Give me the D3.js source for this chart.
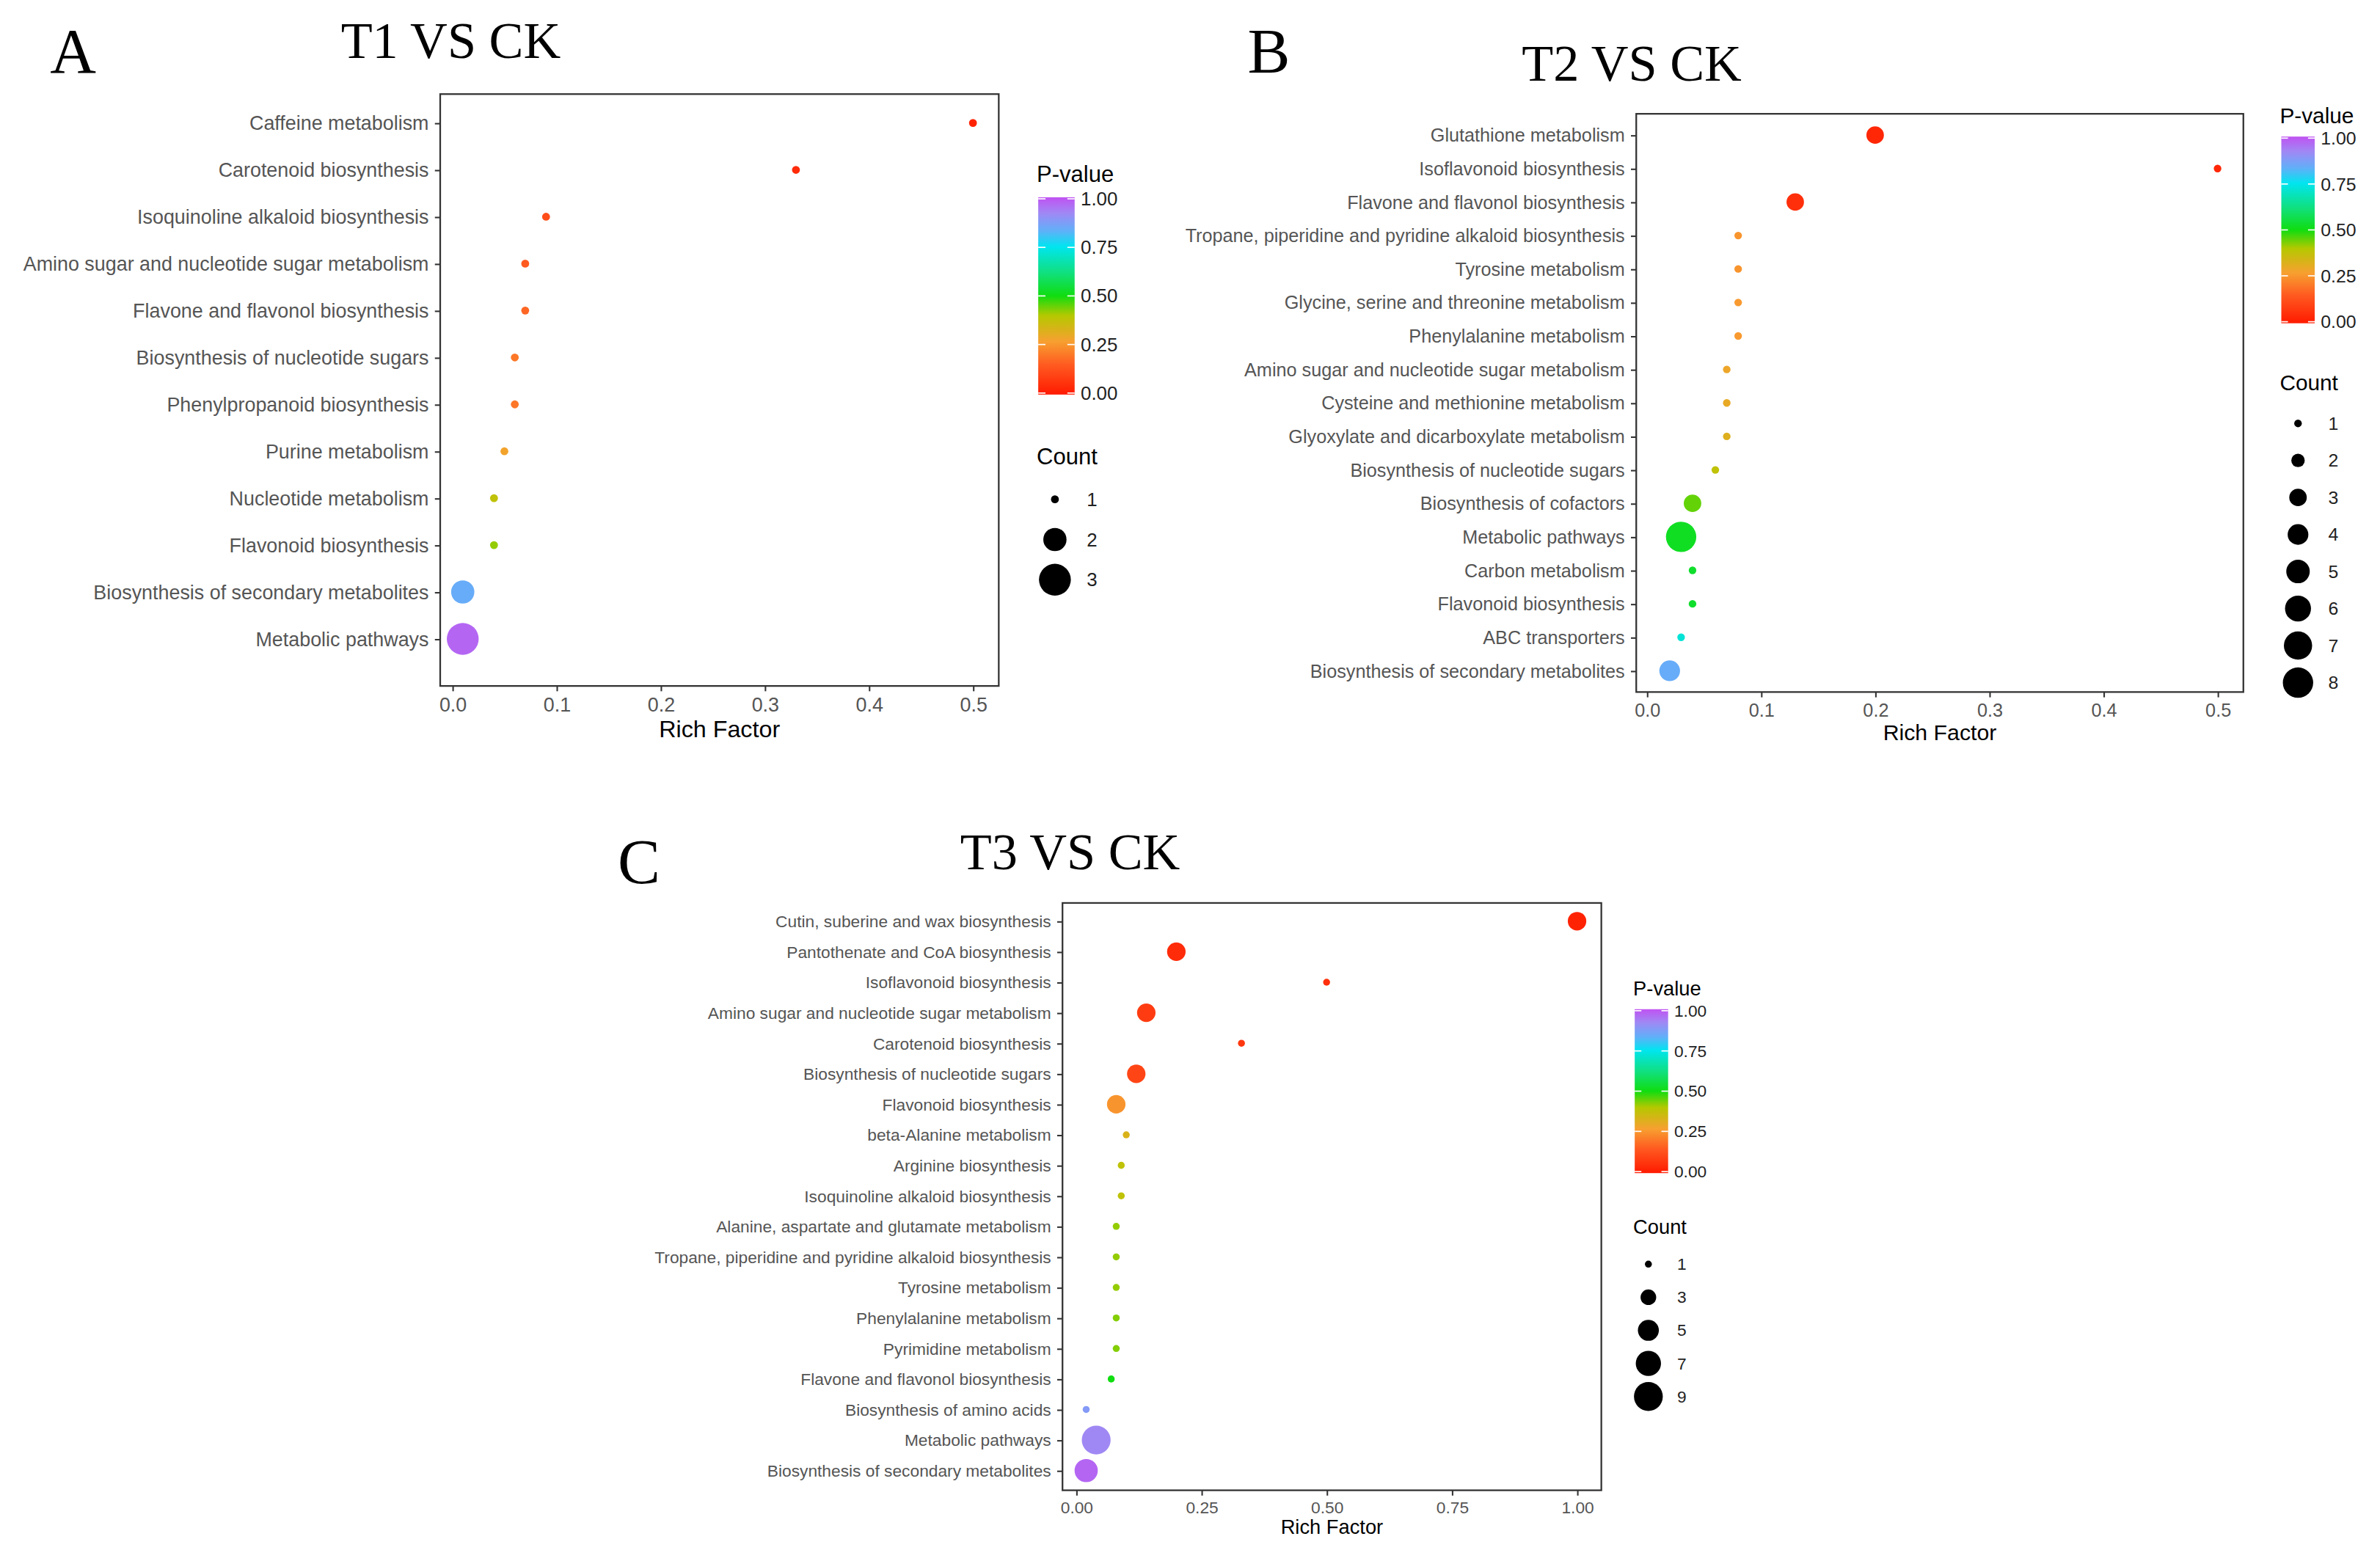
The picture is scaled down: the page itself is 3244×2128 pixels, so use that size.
<!DOCTYPE html>
<html><head><meta charset="utf-8">
<script src="https://cdn.jsdelivr.net/npm/d3@7"></script>
<style>body{margin:0;background:#fff}text{font-family:"Liberation Sans",Arial,sans-serif}</style>
</head><body>
<svg id="c" width="3244" height="2128" viewBox="0 0 1568 1028.6"></svg>
<script>
// Panel A: T1 VS CK
const catsA = ["Caffeine metabolism","Carotenoid biosynthesis","Isoquinoline alkaloid biosynthesis","Amino sugar and nucleotide sugar metabolism","Flavone and flavonol biosynthesis","Biosynthesis of nucleotide sugars","Phenylpropanoid biosynthesis","Purine metabolism","Nucleotide metabolism","Flavonoid biosynthesis","Biosynthesis of secondary metabolites","Metabolic pathways"];
const richA = [0.5,0.33,0.09,0.07,0.07,0.06,0.06,0.05,0.04,0.04,0.01,0.01];
const pA = [0.02,0.04,0.12,0.15,0.17,0.2,0.2,0.28,0.38,0.42,0.84,0.97];
const countA = [1,1,1,1,1,1,1,1,1,1,2,3];
const ticksA = [0,0.1,0.2,0.3,0.4,0.5];
const countTicksA = [1,2,3];
// Panel B: T2 VS CK
const catsB = ["Glutathione metabolism","Isoflavonoid biosynthesis","Flavone and flavonol biosynthesis","Tropane, piperidine and pyridine alkaloid biosynthesis","Tyrosine metabolism","Glycine, serine and threonine metabolism","Phenylalanine metabolism","Amino sugar and nucleotide sugar metabolism","Cysteine and methionine metabolism","Glyoxylate and dicarboxylate metabolism","Biosynthesis of nucleotide sugars","Biosynthesis of cofactors","Metabolic pathways","Carbon metabolism","Flavonoid biosynthesis","ABC transporters","Biosynthesis of secondary metabolites"];
const richB = [0.2,0.5,0.13,0.08,0.08,0.08,0.08,0.07,0.07,0.07,0.06,0.04,0.03,0.04,0.04,0.03,0.02];
const pB = [0.03,0.03,0.05,0.25,0.25,0.26,0.26,0.29,0.3,0.32,0.38,0.45,0.52,0.53,0.53,0.72,0.84];
const countB = [3,1,3,1,1,1,1,1,1,1,1,3,8,1,1,1,4];
const ticksB = [0,0.1,0.2,0.3,0.4,0.5];
const countTicksB = [1,2,3,4,5,6,7,8];
// Panel C: T3 VS CK
const catsC = ["Cutin, suberine and wax biosynthesis","Pantothenate and CoA biosynthesis","Isoflavonoid biosynthesis","Amino sugar and nucleotide sugar metabolism","Carotenoid biosynthesis","Biosynthesis of nucleotide sugars","Flavonoid biosynthesis","beta-Alanine metabolism","Arginine biosynthesis","Isoquinoline alkaloid biosynthesis","Alanine, aspartate and glutamate metabolism","Tropane, piperidine and pyridine alkaloid biosynthesis","Tyrosine metabolism","Phenylalanine metabolism","Pyrimidine metabolism","Flavone and flavonol biosynthesis","Biosynthesis of amino acids","Metabolic pathways","Biosynthesis of secondary metabolites"];
const richC = [1.0,0.2,0.5,0.14,0.33,0.12,0.08,0.1,0.09,0.09,0.08,0.08,0.08,0.08,0.08,0.07,0.02,0.04,0.02];
const pC = [0.02,0.04,0.05,0.08,0.07,0.1,0.25,0.33,0.38,0.38,0.42,0.42,0.42,0.43,0.43,0.5,0.88,0.92,0.97];
const countC = [4,4,1,4,1,4,4,1,1,1,1,1,1,1,1,1,1,9,6];
const ticksC = [0,0.25,0.5,0.75,1.0];
const countTicksC = [1,3,5,7,9];
const pTicks = [0,0.25,0.5,0.75,1.0];

const svg = d3.select("#c");
const stops = [[0,"#ff1a00"],[0.15,"#ff5a20"],[0.27,"#f7a030"],[0.4,"#b5c800"],[0.5,"#10dd10"],[0.62,"#10e080"],[0.75,"#00e5f0"],[0.83,"#60b0f8"],[0.92,"#a088f4"],[1,"#c052f2"]];
const color = d3.scaleLinear().domain(stops.map(s=>s[0])).range(stops.map(s=>s[1]));

const defs = svg.append("defs");
const grad = defs.append("linearGradient").attr("id","pg").attr("x1",0).attr("x2",0).attr("y1",1).attr("y2",0);
stops.forEach(s=>grad.append("stop").attr("offset",s[0]).attr("stop-color",s[1]));

function panel(o){
  const g = svg.append("g");
  g.append("text").attr("x",o.letter[0]).attr("y",o.letter[1]).style("font-family","Liberation Serif").attr("font-size",42).text(o.L);
  g.append("text").attr("x",o.title[0]).attr("y",o.title[1]).attr("text-anchor","middle").style("font-family","Liberation Serif").attr("font-size",34).text(o.T);
  const x = d3.scaleLinear().domain([0,o.xmax]).range([o.x0,o.x1]);
  const y = d3.scalePoint().domain(o.cats).range([o.y0,o.y1]);
  const rr = c => Math.sqrt(o.rmin*o.rmin + (c-1)/(o.cmax-1)*(o.rmax*o.rmax-o.rmin*o.rmin));
  g.append("rect").attr("x",o.box[0]).attr("y",o.box[1]).attr("width",o.box[2]-o.box[0]).attr("height",o.box[3]-o.box[1]).attr("fill","none").attr("stroke","#333").attr("stroke-width",1.1);
  const xa = g.append("g").attr("transform",`translate(0,${o.box[3]})`).call(d3.axisBottom(x).tickValues(o.ticks).tickFormat(o.fmt).tickSize(3.5).tickPadding(4).tickSizeOuter(0));
  xa.select(".domain").remove();
  xa.selectAll("text").attr("font-size",o.fs).attr("fill","#555").style("font-family","Liberation Sans");
  xa.selectAll("line").attr("stroke","#333");
  const ya = g.append("g").attr("transform",`translate(${o.box[0]},0)`).call(d3.axisLeft(y).tickSize(3.5).tickPadding(4).tickSizeOuter(0));
  ya.select(".domain").remove();
  ya.selectAll("text").attr("font-size",o.fs).attr("fill","#555").style("font-family","Liberation Sans");
  ya.selectAll("line").attr("stroke","#333");
  g.append("text").attr("x",(o.box[0]+o.box[2])/2).attr("y",o.box[3]+o.fs*2.6).attr("text-anchor","middle").attr("font-size",o.fs*1.2).text("Rich Factor");
  g.selectAll("circle.d").data(o.cats).join("circle").attr("class","d")
    .attr("cx",(d,i)=>x(o.rich[i])).attr("cy",d=>y(d)).attr("r",(d,i)=>rr(o.count[i])).attr("fill",(d,i)=>color(o.p[i]));
  const lx=o.leg[0];
  g.append("text").attr("x",lx).attr("y",o.leg[1]).attr("font-size",o.lfs*1.2).text("P-value");
  const cb=o.cb;
  g.append("rect").attr("x",lx+1).attr("y",cb[0]).attr("width",cb[2]).attr("height",cb[1]-cb[0]).attr("fill","url(#pg)");
  const py = d3.scaleLinear().domain([0,1]).range([cb[1]-1,cb[0]+1]);
  pTicks.forEach(t=>{
    g.append("line").attr("x1",lx+1).attr("x2",lx+1+cb[2]*0.2).attr("y1",py(t)).attr("y2",py(t)).attr("stroke","#fff").attr("stroke-width",0.8);
    g.append("line").attr("x1",lx+1+cb[2]*0.8).attr("x2",lx+1+cb[2]).attr("y1",py(t)).attr("y2",py(t)).attr("stroke","#fff").attr("stroke-width",0.8);
    g.append("text").attr("x",lx+cb[2]+5).attr("y",py(t)).attr("dy","0.35em").attr("font-size",o.lfs).attr("fill","#222").text(t.toFixed(2));
  });
  g.append("text").attr("x",lx).attr("y",o.cnt[0]).attr("font-size",o.lfs*1.2).text("Count");
  o.cticks.forEach((c,i)=>{
    const cy=o.cnt[1]+i*o.cnt[2];
    g.append("circle").attr("cx",lx+o.cnt[3]).attr("cy",cy).attr("r",rr(c)).attr("fill","#000");
    g.append("text").attr("x",lx+o.cnt[3]+o.cnt[4]).attr("y",cy).attr("dy","0.35em").attr("font-size",o.lfs).attr("fill","#222").text(c);
  });
}
const f1 = d3.format(".1f"), f2 = d3.format(".2f");
panel({L:"A",letter:[33,48],T:"T1 VS CK",title:[297,38],cats:catsA,rich:richA,p:pA,count:countA,xmax:0.5,x0:298,x1:641,y0:81,y1:421,
  box:[290,62,658,452],ticks:ticksA,fmt:f1,fs:13,rmin:2.6,rmax:10.5,cmax:3,
  leg:[683,120],cb:[130,260,24],lfs:12.5,cnt:[306,329,26.5,12,21],cticks:countTicksA});
panel({L:"B",letter:[822,48],T:"T2 VS CK",title:[1075,53],cats:catsB,rich:richB,p:pB,count:countB,xmax:0.5,x0:1085,x1:1461,y0:89,y1:442,
  box:[1078,75,1478,456],ticks:ticksB,fmt:f1,fs:12.2,rmin:2.5,rmax:10,cmax:8,
  leg:[1502,81],cb:[90,213,22],lfs:12,cnt:[257,279,24.4,12,20],cticks:countTicksB});
panel({L:"C",letter:[407,582],T:"T3 VS CK",title:[705,573],cats:catsC,rich:richC,p:pC,count:countC,xmax:1.0,x0:709,x1:1039,y0:607,y1:969,
  box:[700,595,1055,982],ticks:ticksC,fmt:f2,fs:11,rmin:2.3,rmax:9.5,cmax:9,
  leg:[1076,656],cb:[665,773,22],lfs:11,cnt:[813,833,21.8,10,19],cticks:countTicksC});
</script></body></html>
